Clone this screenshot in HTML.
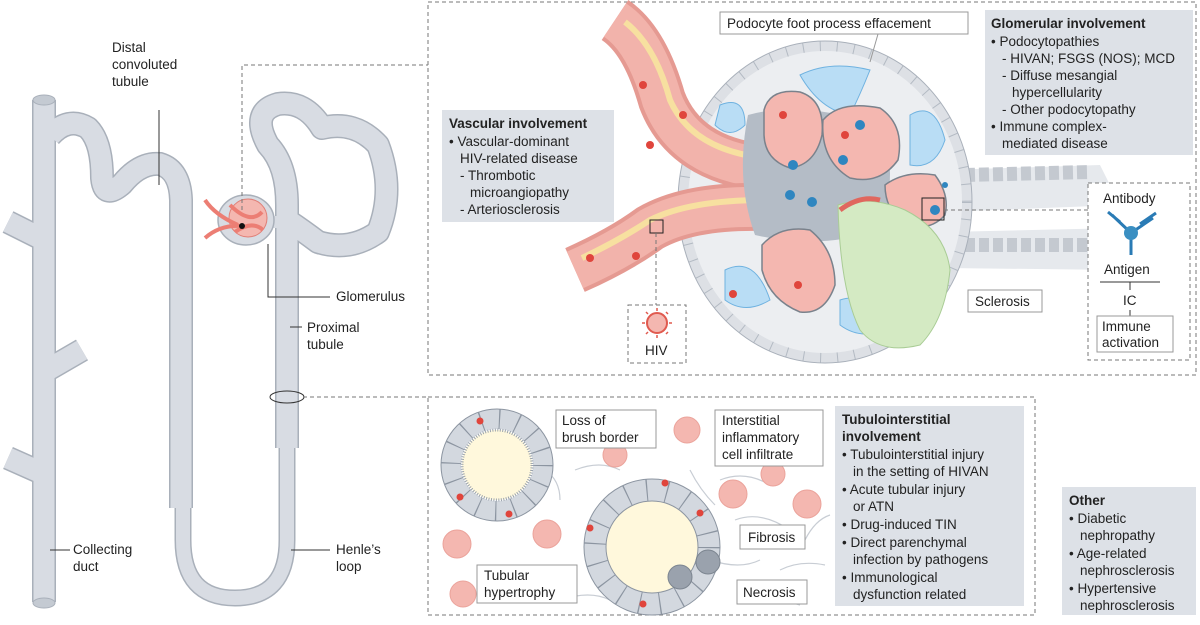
<!DOCTYPE html>
<html><head><meta charset="utf-8"><style>
body{margin:0;background:#fff;width:1200px;height:620px;overflow:hidden;font-family:"Liberation Sans",sans-serif}
svg text{font-family:"Liberation Sans",sans-serif;font-size:13.5px;fill:#222}
.b{font-weight:bold}
</style></head><body>
<svg width="1200" height="620" viewBox="0 0 1200 620" xmlns="http://www.w3.org/2000/svg">
<!-- nephron tubes -->
<g fill="none" stroke-linecap="butt" stroke-linejoin="round">
<path d="M183,500 L183,540 Q183,598 235,598 Q287,598 287,540 L287,440" stroke="#a9b0ba" stroke-width="17"/>
<path d="M183,500 L183,540 Q183,598 235,598 Q287,598 287,540 L287,440" stroke="#d8dce3" stroke-width="14"/>
<g stroke="#a9b0ba" stroke-width="24">
<path d="M44,100 L44,602"/><path d="M44,240 L8,222"/><path d="M44,474 L8,458"/><path d="M44,372 L82,350"/>
<path d="M50,136 Q68,116 88,128 Q102,142 102,178 Q104,200 122,184 Q140,162 160,164 Q180,170 181,200 L181,508"/>
<path d="M287,448 L287,205 Q287,165 268,145 Q250,112 278,104 Q305,100 322,128 Q355,120 378,145 Q395,190 378,232 Q350,252 318,242 Q302,230 290,222"/>
</g>
<g stroke="#d8dce3" stroke-width="21">
<path d="M44,100 L44,602"/><path d="M44,240 L8,222"/><path d="M44,474 L8,458"/><path d="M44,372 L82,350"/>
<path d="M50,136 Q68,116 88,128 Q102,142 102,178 Q104,200 122,184 Q140,162 160,164 Q180,170 181,200 L181,508"/>
<path d="M287,448 L287,205 Q287,165 268,145 Q250,112 278,104 Q305,100 322,128 Q355,120 378,145 Q395,190 378,232 Q350,252 318,242 Q302,230 290,222"/>
</g>
</g>
<ellipse cx="44" cy="100" rx="11" ry="5" fill="#c4cad2" stroke="#a9b0ba"/>
<ellipse cx="44" cy="603" rx="11" ry="5" fill="#c4cad2" stroke="#a9b0ba"/>
<path d="M262,222 L290,222" stroke="#d8dce3" stroke-width="12"/>
<ellipse cx="246" cy="220" rx="28" ry="25" fill="#d8dce3" stroke="#a9b0ba" stroke-width="1.5"/>
<circle cx="248" cy="218" r="19" fill="#f4b7b0" stroke="#e07f77"/>
<path d="M205,200 Q215,215 238,225 M205,238 Q220,225 240,226 M230,205 Q250,225 262,212 M235,232 Q252,220 263,230" stroke="#ec7e74" stroke-width="4" fill="none"/>
<circle cx="242" cy="226" r="3" fill="#111"/>
<ellipse cx="287" cy="397" rx="17" ry="6" fill="none" stroke="#333"/>
<!-- leader lines -->
<g stroke="#333" stroke-width="1" fill="none">
<path d="M159,110 L159,185"/><path d="M268,244 L268,297 L330,297"/><path d="M290,327 L302,327"/>
<path d="M50,550 L70,550"/><path d="M291,550 L330,550"/>
</g>
<g stroke="#777" stroke-dasharray="4,3" fill="none">
<path d="M242,210 L242,65 L428,65"/><path d="M303,397 L428,397"/>
<rect x="428" y="2" width="768" height="373"/><rect x="428" y="397" width="607" height="218"/>
</g>
<text x="112" y="52">Distal</text><text x="112" y="69">convoluted</text><text x="112" y="86">tubule</text>
<text x="336" y="301">Glomerulus</text><text x="307" y="332">Proximal</text><text x="307" y="349">tubule</text>
<text x="73" y="554">Collecting</text><text x="73" y="571">duct</text>
<text x="336" y="554">Henle’s</text><text x="336" y="571">loop</text>
<!-- top panel illustration -->
<g>
<path d="M945,170 L1100,165 L1120,205 L945,212 Z" fill="#e6e9ed"/>
<path d="M945,232 L1120,228 L1120,270 L945,268 Z" fill="#e6e9ed"/>
<path d="M965,175 L1090,172 M965,245 L1090,245" stroke="#c4c9d0" stroke-width="14" stroke-dasharray="10,4"/>
<ellipse cx="825" cy="202" rx="142" ry="156" fill="#eceef1" stroke="#dde0e5" stroke-width="10"/>
<ellipse cx="825" cy="202" rx="142" ry="156" fill="none" stroke="#b3bac3" stroke-width="10" stroke-dasharray="1,16"/>
<ellipse cx="825" cy="202" rx="147" ry="161" fill="none" stroke="#a9b0ba" stroke-width="1"/>
<!-- vessels -->
<path d="M615,20 Q645,40 662,100 Q685,160 765,168" stroke="#e59a92" stroke-width="48" fill="none"/>
<path d="M615,20 Q645,40 662,100 Q685,160 765,168" stroke="#f2b3ab" stroke-width="40" fill="none"/>
<path d="M625,22 Q655,45 670,100 Q692,150 765,158" stroke="#f7e0a0" stroke-width="6" fill="none"/>
<path d="M575,270 Q620,250 650,228 Q690,205 765,207" stroke="#e59a92" stroke-width="48" fill="none"/>
<path d="M575,270 Q620,250 650,228 Q690,205 765,207" stroke="#f2b3ab" stroke-width="40" fill="none"/>
<path d="M582,258 Q620,240 650,220 Q690,200 765,200" stroke="#f7e0a0" stroke-width="6" fill="none"/>
<!-- blue podocytes -->
<g fill="#b9ddf5" stroke="#6fb2e0">
<path d="M800,75 Q830,60 870,70 Q860,95 850,115 Q820,110 800,75 Z"/>
<path d="M910,115 Q935,100 945,140 Q935,170 910,165 Z"/>
<path d="M725,270 Q755,255 770,300 Q745,315 725,300 Z"/>
<path d="M840,300 Q870,290 885,330 Q860,340 840,325 Z"/>
<path d="M720,105 Q745,95 745,125 Q730,140 715,125 Z"/>
</g>
<path d="M748,115 Q800,100 880,125 Q900,170 880,230 Q820,250 755,235 Q735,180 748,115 Z" fill="#b4bcc6"/>
<g fill="#f4b7b0" stroke="#7a828c" stroke-width="1.5">
<path d="M764,110 Q770,88 800,92 Q825,100 822,135 Q815,165 790,168 Q765,160 764,135 Z"/>
<path d="M823,120 Q840,100 880,108 Q905,125 898,160 Q880,185 850,178 Q820,160 823,120 Z"/>
<path d="M885,185 Q905,170 935,175 Q950,195 945,215 Q930,232 905,225 Q885,210 885,185 Z"/>
<path d="M762,245 Q780,225 810,230 Q835,250 835,285 Q825,315 800,312 Q770,300 762,270 Z"/>
</g>
<path d="M838,205 Q870,195 905,210 Q945,230 950,270 Q945,320 920,345 Q880,355 860,330 Q840,290 838,205 Z" fill="#d4eac3" stroke="#a9cc95"/>
<path d="M840,210 Q860,195 880,200" stroke="#e0675e" stroke-width="5" fill="none"/>
<g fill="#2f86c0"><circle cx="793" cy="165" r="5"/><circle cx="812" cy="202" r="5"/><circle cx="790" cy="195" r="5"/><circle cx="860" cy="125" r="5"/><circle cx="843" cy="160" r="5"/><circle cx="935" cy="210" r="5"/><circle cx="945" cy="185" r="3"/></g>
<g fill="#e0453c"><circle cx="683" cy="115" r="4"/><circle cx="643" cy="85" r="4"/><circle cx="650" cy="145" r="4"/><circle cx="636" cy="256" r="4"/><circle cx="590" cy="258" r="4"/><circle cx="783" cy="115" r="4"/><circle cx="845" cy="135" r="4"/><circle cx="798" cy="285" r="4"/><circle cx="733" cy="294" r="4"/></g>
<rect x="650" y="220" width="13" height="13" fill="none" stroke="#222"/>
<path d="M656,233 L656,305" stroke="#777" stroke-dasharray="4,3"/>
<rect x="922" y="198" width="22" height="22" fill="none" stroke="#222"/>
</g>
<rect x="720" y="12" width="248" height="22" fill="#fff" stroke="#999"/>
<text x="727" y="28">Podocyte foot process effacement</text>
<path d="M878,34 L870,62" stroke="#999"/>
<rect x="985" y="10" width="208" height="145" fill="#dde1e7"/>
<text x="991" y="28" class="b">Glomerular involvement</text>
<text x="991" y="46">• Podocytopathies</text><text x="1002" y="63">- HIVAN; FSGS (NOS); MCD</text>
<text x="1002" y="80">- Diffuse mesangial</text><text x="1012" y="97">hypercellularity</text><text x="1002" y="114">- Other podocytopathy</text>
<text x="991" y="131">• Immune complex-</text><text x="1002" y="148">mediated disease</text>
<rect x="442" y="110" width="172" height="112" fill="#dde1e7"/>
<text x="449" y="128" class="b">Vascular involvement</text><text x="449" y="146">• Vascular-dominant</text>
<text x="460" y="163">HIV-related disease</text><text x="460" y="180">- Thrombotic</text><text x="470" y="197">microangiopathy</text><text x="460" y="214">- Arteriosclerosis</text>
<rect x="628" y="305" width="58" height="58" fill="#fff" stroke="#777" stroke-dasharray="4,3"/>
<circle cx="657" cy="323" r="10" fill="#f4b7b0" stroke="#e05a4f" stroke-width="2"/>
<g stroke="#e05a4f" stroke-width="1.5"><path d="M657,308 L657,311 M657,335 L657,338 M642,323 L645,323 M669,323 L672,323 M646,312 L648,314 M666,312 L668,314 M646,334 L648,332 M666,334 L668,332"/></g>
<text x="645" y="355">HIV</text>
<rect x="968" y="290" width="74" height="22" fill="#fff" stroke="#999"/><text x="975" y="306">Sclerosis</text>
<path d="M944,210 L1088,210" stroke="#777" stroke-dasharray="4,3"/>
<rect x="1088" y="183" width="102" height="177" fill="#fff" stroke="#777" stroke-dasharray="4,3"/>
<text x="1103" y="203">Antibody</text>
<g stroke="#2a7bb5" stroke-width="3" fill="none"><path d="M1131,233 L1112,215 M1131,233 L1153,218 M1131,233 L1131,255 M1120,222 L1108,212 M1140,224 L1156,213"/></g>
<circle cx="1131" cy="233" r="7" fill="#3a8fc2"/>
<text x="1104" y="274">Antigen</text>
<path d="M1100,282 L1160,282 M1130,282 L1130,290" stroke="#333"/>
<text x="1123" y="305">IC</text><path d="M1130,310 L1130,316" stroke="#333"/>
<rect x="1097" y="316" width="76" height="36" fill="#fff" stroke="#999"/>
<text x="1102" y="331">Immune</text><text x="1102" y="347">activation</text>
<!-- bottom panel -->
<g stroke="#c8cdd4" stroke-width="1.2" fill="none">
<path d="M575,470 Q600,460 620,470 M720,480 Q745,470 770,485 M735,520 Q760,510 790,530 M600,505 Q620,495 640,500 M710,560 Q740,570 760,560 M740,600 Q770,595 800,605 M560,600 Q590,590 610,600 M780,570 Q800,560 825,565 M690,470 Q700,490 715,505 M805,540 Q815,520 830,515 M545,470 Q560,480 560,500"/>
</g>
<g fill="#f4b7b0" stroke="#eba39b">
<circle cx="687" cy="430" r="13"/><circle cx="615" cy="455" r="12"/><circle cx="733" cy="494" r="14"/><circle cx="773" cy="474" r="12"/>
<circle cx="807" cy="504" r="14"/><circle cx="457" cy="544" r="14"/><circle cx="547" cy="534" r="14"/><circle cx="463" cy="594" r="13"/>
</g>
<circle cx="497" cy="465" r="46" fill="none" stroke="#d3d8df" stroke-width="20"/>
<circle cx="497" cy="465" r="46" fill="none" stroke="#8c95a1" stroke-width="20" stroke-dasharray="1.2,17"/>
<circle cx="497" cy="465" r="56" fill="none" stroke="#8c95a1" stroke-width="1"/>
<circle cx="497" cy="465" r="35" fill="#fff8dc" stroke="#9aa3ad" stroke-dasharray="1,1.5" stroke-width="3"/>
<circle cx="652" cy="547" r="57" fill="none" stroke="#d3d8df" stroke-width="22"/>
<circle cx="652" cy="547" r="57" fill="none" stroke="#8c95a1" stroke-width="22" stroke-dasharray="1.2,19"/>
<circle cx="652" cy="547" r="68" fill="none" stroke="#8c95a1" stroke-width="1"/>
<circle cx="652" cy="547" r="46" fill="#fff8dc" stroke="#8c95a1"/>
<g fill="#e0453c"><circle cx="480" cy="421" r="3.5"/><circle cx="460" cy="497" r="3.5"/><circle cx="509" cy="514" r="3.5"/><circle cx="665" cy="483" r="3.5"/><circle cx="700" cy="513" r="3.5"/><circle cx="590" cy="528" r="3.5"/><circle cx="643" cy="604" r="3.5"/></g>
<g fill="#9aa2ad" stroke="#7c8590"><circle cx="680" cy="577" r="12"/><circle cx="708" cy="562" r="12"/></g>
<rect x="556" y="410" width="100" height="38" fill="#fff" stroke="#999"/>
<text x="562" y="425">Loss of</text><text x="562" y="442">brush border</text>
<rect x="715" y="410" width="108" height="56" fill="#fff" stroke="#999"/>
<text x="722" y="425">Interstitial</text><text x="722" y="442">inflammatory</text><text x="722" y="459">cell infiltrate</text>
<rect x="740" y="525" width="65" height="24" fill="#fff" stroke="#999"/><text x="748" y="542">Fibrosis</text>
<rect x="737" y="580" width="70" height="24" fill="#fff" stroke="#999"/><text x="743" y="597">Necrosis</text>
<rect x="477" y="565" width="100" height="38" fill="#fff" stroke="#999"/>
<text x="484" y="580">Tubular</text><text x="484" y="597">hypertrophy</text>
<rect x="835" y="406" width="189" height="200" fill="#dde1e7"/>
<text x="842" y="424" class="b">Tubulointerstitial</text><text x="842" y="441" class="b">involvement</text>
<text x="842" y="459">• Tubulointerstitial injury</text><text x="853" y="476">in the setting of HIVAN</text>
<text x="842" y="494">• Acute tubular injury</text><text x="853" y="511">or ATN</text>
<text x="842" y="529">• Drug-induced TIN</text><text x="842" y="547">• Direct parenchymal</text>
<text x="853" y="564">infection by pathogens</text><text x="842" y="582">• Immunological</text><text x="853" y="599">dysfunction related</text>
<rect x="1062" y="487" width="134" height="128" fill="#dde1e7"/>
<text x="1069" y="505" class="b">Other</text>
<text x="1069" y="523">• Diabetic</text><text x="1080" y="540">nephropathy</text>
<text x="1069" y="558">• Age-related</text><text x="1080" y="575">nephrosclerosis</text>
<text x="1069" y="593">• Hypertensive</text><text x="1080" y="610">nephrosclerosis</text>
</svg>
</body></html>
